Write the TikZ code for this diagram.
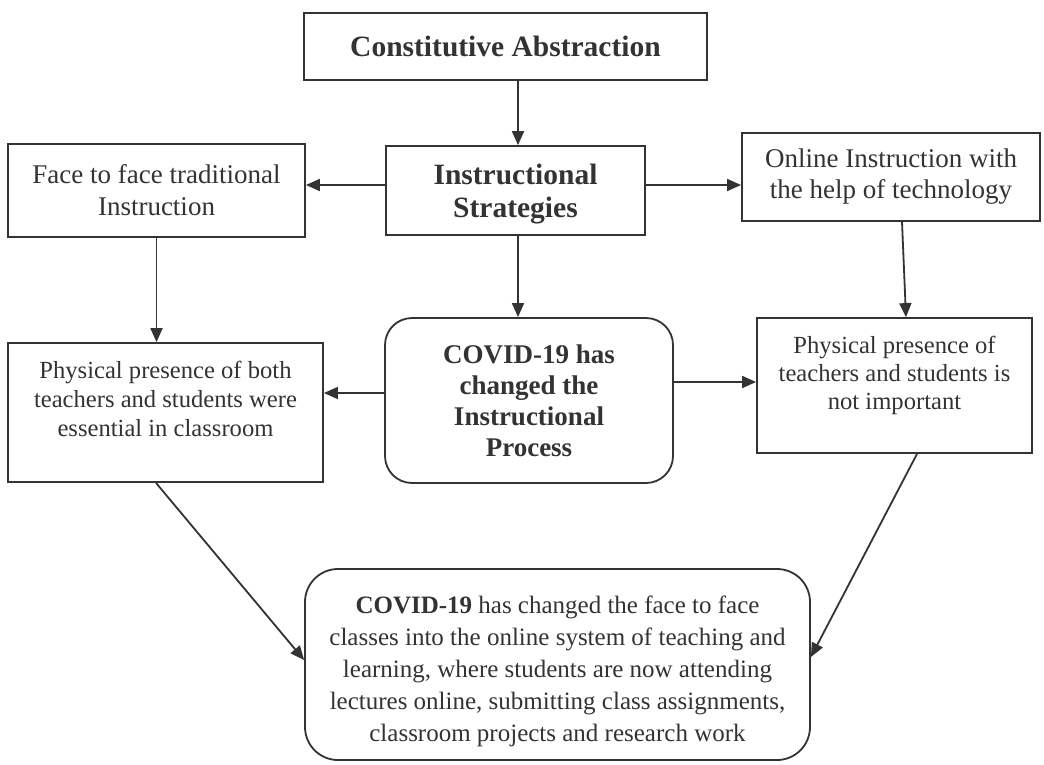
\documentclass[tikz,border=0pt]{standalone}
\usepackage{fontspec}
\setmainfont{Liberation Serif}
\usetikzlibrary{arrows.meta,calc}
\definecolor{ink}{HTML}{333333}
\begin{document}
\begin{tikzpicture}[x=1pt,y=-1pt,
  box/.style={draw=ink, line width=1.8pt, fill=white, align=center, inner sep=0pt,
    text=ink, font=\fontsize{27}{32}\selectfont},
  rbox/.style={box, rounded corners=27pt},
  arr/.style={draw=ink, line width=1.8pt, -{Triangle[length=14pt,width=12pt]}}]
\fill[white] (0,0) rectangle (1044,764);
\useasboundingbox (0,0) rectangle (1044,764);

\node[box, minimum width=403pt, minimum height=67pt, font=\bfseries\fontsize{29.5}{33}\selectfont] (ca) at (505.5,46.5)
  {Constitutive Abstraction};
\node[box, minimum width=259pt, minimum height=89pt] (is) at (515.5,190.5)
  {\parbox[c][89pt][t]{259pt}{\centering\bfseries\fontsize{29.5}{33}\selectfont
   \rule{0pt}{38pt}Instructional\\Strategies}};
\node[box, minimum width=297pt, minimum height=93pt] (ff) at (156.5,190.5)
  {Face to face traditional\\Instruction};
\node[box, minimum width=298pt, minimum height=88pt, font=\fontsize{27}{31}\selectfont] (on) at (891,177)
  {Online Instruction with\\the help of technology};
\node[rbox, minimum width=288pt, minimum height=165pt, font=\bfseries\fontsize{27}{31}\selectfont] (cov) at (529,400.5)
  {COVID-19 has\\changed the\\Instructional\\Process};
\node[box, minimum width=315pt, minimum height=139pt] (pl) at (165.5,412.5)
  {\parbox[c][139pt][t]{315pt}{\centering\fontsize{24.6}{29}\selectfont
   \rule{0pt}{35pt}Physical presence of both\\teachers and students were\\essential in classroom}};
\node[box, minimum width=275pt, minimum height=135pt] (pr) at (894.5,385.5)
  {\parbox[c][135pt][t]{275pt}{\centering\fontsize{24.6}{28}\selectfont
   \rule{0pt}{35pt}Physical presence of\\teachers and students is\\not important}};
\node[box, rounded corners=33pt, minimum width=505pt, minimum height=191pt] (bot) at (557.5,664.5)
  {\parbox[c][191pt][t]{505pt}{\centering\fontsize{25}{32}\selectfont
   \rule{0pt}{44pt}\textbf{COVID-19} has changed the face to face\\classes into the online system of teaching and\\learning, where students are now attending\\lectures online, submitting class assignments,\\classroom projects and research work}};

\draw[arr] ([xshift=2.5pt]is.north |- ca.south) -- ([xshift=2.5pt]is.north);
\draw[arr] ([yshift=5.5pt]is.west) -- ([yshift=5.5pt]is.west -| ff.east);
\draw[arr] ([yshift=5.5pt]is.east) -- ([yshift=5.5pt]is.east -| on.west);
\draw[arr] (ff.south) -- (ff.south |- pl.north);
\draw[arr] ([xshift=2.5pt]is.south) -- ([xshift=2.5pt]is.south |- cov.north);
\draw[arr] ([xshift=11pt]on.south) -- ([xshift=11.5pt]pr.north);
\draw[arr] ([yshift=7.5pt]cov.west) -- ([yshift=7.5pt]cov.west -| pl.east);
\draw[arr] ([yshift=18.5pt]cov.east) -- ([yshift=18.5pt]cov.east -| pr.west);
\draw[arr] ([xshift=-9.5pt]pl.south) -- ([yshift=4.5pt]bot.west);
\draw[arr] ([xshift=22.5pt]pr.south) -- ([yshift=7.5pt]bot.east);
\end{tikzpicture}
\end{document}
